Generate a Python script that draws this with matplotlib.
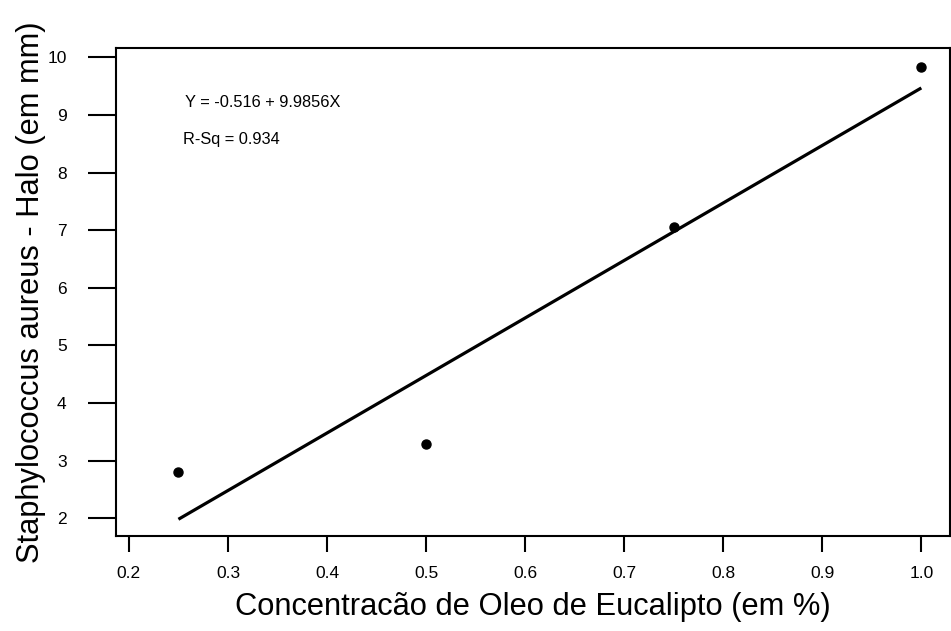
import numpy as np
import matplotlib
matplotlib.use("Agg")
import matplotlib.pyplot as plt

plt.rcParams['font.family'] = ['Liberation Sans', 'DejaVu Sans']

# data points
conc = [0.25, 0.50, 0.75, 1.00]
halo = [2.80, 3.28, 7.06, 9.83]

# fitted line endpoints
fit_x = [0.25, 1.00]
fit_y = [1.98, 9.47]

x_ticks = [0.2, 0.3, 0.4, 0.5, 0.6, 0.7, 0.8, 0.9, 1.0]
x_labels = ["0.2", "0.3", "0.4", "0.5", "0.6", "0.7", "0.8", "0.9", "1.0"]
y_ticks = [2, 3, 4, 5, 6, 7, 8, 9, 10]

eq_text = "Y = -0.516 + 9.9856X"
rsq_text = "R-Sq = 0.934"

fig = plt.figure(figsize=(9.51, 6.31), dpi=100)
ax = fig.add_axes([0.122, 0.1506, 0.877, 0.773])

ax.plot(fit_x, fit_y, color='black', lw=2.3, solid_capstyle='butt')
ax.plot(conc, halo, 'o', color='black', markersize=6.5)

ax.set_xlim(0.187, 1.029)
ax.set_ylim(1.69, 10.16)

ax.set_xticks(x_ticks)
ax.set_xticklabels(x_labels)
ax.set_yticks(y_ticks)

ax.tick_params(axis='x', length=11.5, width=1.5, pad=10, labelsize=12.5)
ax.tick_params(axis='y', length=20.5, width=1.5, pad=15, labelsize=12.5)

for s in ax.spines.values():
    s.set_linewidth(1.5)

ax.text(0.257, 9.22, eq_text, fontsize=11.8, va='center', ha='left')
ax.text(0.255, 8.57, rsq_text, fontsize=11.8, va='center', ha='left')

ax.set_xlabel("Concentracão de Oleo de Eucalipto (em %)", fontsize=22.2, labelpad=8)
ax.set_ylabel("Staphylococcus aureus - Halo (em mm)", fontsize=22.2, labelpad=1)

fig.savefig("out.png", dpi=100)
